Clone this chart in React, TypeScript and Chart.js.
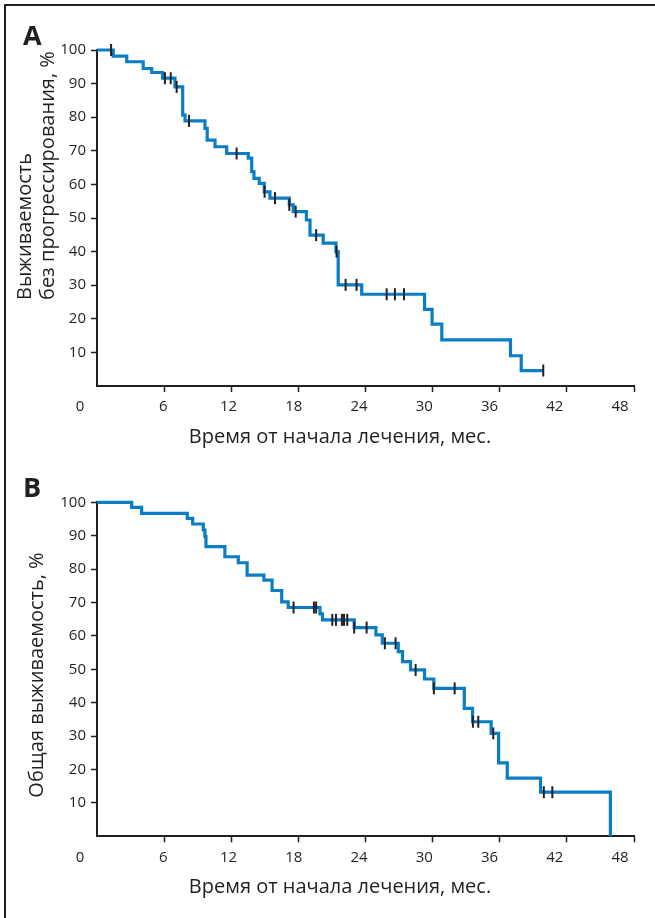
import React, { useEffect, useRef } from 'react';
import { Chart, registerables } from 'chart.js';

Chart.register(...registerables);

// ---------- data ----------
const xTickValues = [0, 6, 12, 18, 24, 30, 36, 42, 48];
const yTickValues = [10, 20, 30, 40, 50, 60, 70, 80, 90, 100];

const xTitle = 'Время от начала лечения, мес.';
const pfsTitleLines = ['Выживаемость', 'без прогрессирования, %'];
const osTitle = 'Общая выживаемость, %';

// Panel A: progression-free survival (time of step, survival after step)
const pfsTimes = [0, 1.45, 2.66, 4.13, 4.89, 5.86, 6.97, 7.66, 7.87, 9.65, 9.85, 10.55, 11.59, 13.52, 13.83, 14.03, 14.5, 14.95, 15.46, 17.19, 17.54, 18.72, 19.04, 20.22, 21.36, 21.56, 23.66, 29.28, 29.95, 30.82, 36.96, 37.92, 39.89];
const pfsSurv = [100, 98.2, 96.5, 94.5, 93.3, 91.6, 89.0, 80.6, 78.9, 76.7, 73.2, 71.2, 69.2, 67.8, 63.8, 61.8, 60.3, 57.8, 55.9, 53.9, 51.9, 49.4, 44.9, 42.5, 40.0, 30.1, 27.3, 22.8, 18.4, 13.7, 9.0, 4.6, 4.6];
const pfsCensored = [1.26, 6.07, 6.59, 7.12, 8.22, 12.48, 14.98, 15.91, 17.19, 17.76, 19.59, 21.41, 22.22, 23.2, 25.89, 26.63, 27.44, 39.89];

// Panel B: overall survival
const osTimes = [0, 3.1, 3.99, 8.07, 8.55, 9.5, 9.65, 9.74, 11.43, 12.63, 13.42, 14.92, 15.65, 16.51, 17.09, 19.93, 20.16, 22.99, 24.93, 25.5, 26.93, 27.31, 28.03, 29.28, 30.11, 32.83, 33.57, 35.23, 35.9, 36.67, 39.65, 45.89];
const osSurv = [100, 98.5, 96.7, 95.2, 93.5, 91.7, 89.7, 86.7, 83.7, 81.9, 78.2, 76.7, 73.6, 70.2, 68.5, 66.6, 64.8, 62.5, 60.3, 57.8, 55.3, 52.3, 49.8, 47.1, 44.3, 38.3, 34.3, 30.8, 22.0, 17.4, 13.2, 0];
const osCensored = [17.57, 19.39, 19.59, 21.03, 21.36, 21.89, 22.08, 22.37, 22.99, 24.1, 25.73, 26.69, 28.48, 30.11, 31.97, 33.6, 34.08, 35.42, 39.94, 40.7];

// ---------- styles ----------
const INK = '#231f20';
const BLUE = '#0a7dc4';
const FONT = '"Open Sans", "Noto Sans", sans-serif';
const LABEL_STRETCH = 0.972; // tick labels sit slightly left of their tick marks in the original

function levelAt(times: number[], surv: number[], t: number): number {
  let v = surv[0];
  for (let i = 0; i < times.length; i++) {
    if (times[i] <= t) v = surv[i];
  }
  return v;
}

type YLine = { text: string; x: number; y: number; align: CanvasTextAlign };

type PanelProps = {
  top: number;
  height: number;
  padTop: number;
  padBottom: number;
  letter: string;
  times: number[];
  surv: number[];
  censored: number[];
  yLines: YLine[];
};

function Panel(props: PanelProps) {
  const ref = useRef<HTMLCanvasElement | null>(null);

  useEffect(() => {
    if (!ref.current) return;
    const { times, surv, censored, letter, yLines } = props;

    const textPlugin = {
      id: 'panelTexts',
      afterDraw(chart: any) {
        const { ctx, chartArea, scales } = chart;
        ctx.save();
        ctx.fillStyle = INK;
        // panel letter
        ctx.font = `bold 27px ${FONT}`;
        ctx.textAlign = 'left';
        ctx.textBaseline = 'middle';
        ctx.fillText(letter, 23, chartArea.top - 13);
        // x title
        ctx.font = `20px ${FONT}`;
        ctx.textAlign = 'center';
        ctx.fillText(xTitle, 340, chartArea.bottom + 51);
        // x tick labels
        ctx.font = `15px ${FONT}`;
        xTickValues.forEach((v) => {
          const px = v === 0
            ? scales.x.getPixelForValue(0) - 17
            : scales.x.getPixelForValue(v * LABEL_STRETCH) + 1;
          ctx.fillText(String(v), px, chartArea.bottom + 21);
        });
        // y titles
        ctx.font = `20px ${FONT}`;
        yLines.forEach((l) => {
          ctx.save();
          ctx.translate(l.x, l.y);
          ctx.rotate(-Math.PI / 2);
          ctx.textAlign = l.align;
          ctx.textBaseline = 'middle';
          ctx.fillText(l.text, 0, 0);
          ctx.restore();
        });
        ctx.restore();
      },
    };

    const chart = new Chart(ref.current, {
      type: 'line',
      data: {
        datasets: [
          {
            label: 'censored',
            data: censored.map((t) => ({ x: t, y: levelAt(times, surv, t) })),
            showLine: false,
            pointStyle: 'line',
            rotation: 90,
            pointRadius: 6,
            pointBorderWidth: 2,
            pointBorderColor: INK,
            pointBackgroundColor: INK,
            clip: false,
          } as any,
          {
            label: 'survival',
            data: times.map((t, i) => ({ x: t, y: surv[i] })),
            stepped: 'before',
            borderColor: BLUE,
            borderWidth: 3.2,
            pointRadius: 0,
            fill: false,
            clip: false,
          } as any,
        ],
      },
      options: {
        animation: false,
        responsive: false,
        maintainAspectRatio: false,
        events: [],
        layout: {
          padding: { left: 0, right: 21, top: props.padTop, bottom: props.padBottom },
        },
        plugins: {
          legend: { display: false },
          tooltip: { enabled: false },
          title: { display: false },
        },
        scales: {
          x: {
            type: 'linear',
            min: 0,
            max: 48,
            afterFit: (s: any) => {
              s.height = 63;
            },
            afterBuildTicks: (s: any) => {
              s.ticks = xTickValues.map((v) => ({ value: v }));
            },
            ticks: {
              color: INK,
              font: { family: FONT, size: 15 },
              padding: 7,
              maxRotation: 0,
              autoSkip: false,
              callback: () => '',
            },
            grid: {
              drawOnChartArea: false,
              drawTicks: true,
              tickLength: 6,
              tickWidth: 1.5,
              tickColor: (c: any) => (c.tick && c.tick.value === 0 ? 'rgba(0,0,0,0)' : INK),
            },
            border: { display: true, color: INK, width: 2 },
          },
          y: {
            type: 'linear',
            min: 0,
            max: 100,
            afterFit: (s: any) => {
              s.width = 97;
            },
            afterBuildTicks: (s: any) => {
              s.ticks = [0, ...yTickValues].map((v) => ({ value: v }));
            },
            ticks: {
              color: INK,
              font: { family: FONT, size: 15 },
              padding: 5,
              autoSkip: false,
              callback: (v: any) => (v === 0 ? '' : String(v)),
            },
            grid: {
              drawOnChartArea: false,
              drawTicks: true,
              tickLength: 6,
              tickWidth: 1.5,
              tickColor: (c: any) => (c.tick && c.tick.value === 0 ? 'rgba(0,0,0,0)' : INK),
            },
            border: { display: true, color: INK, width: 2 },
          },
        },
      },
      plugins: [textPlugin],
    });

    return () => chart.destroy();
  }, []);

  return (
    <canvas
      ref={ref}
      width={655}
      height={props.height}
      style={{ position: 'absolute', left: 0, top: props.top, width: 655, height: props.height }}
    />
  );
}

export default function App() {
  useEffect(() => {
    document.body.style.margin = '0';
  }, []);

  return (
    <div style={{ position: 'relative', width: 655, height: 918, background: '#fff', overflow: 'hidden' }}>
      <div
        style={{
          position: 'absolute',
          left: 4,
          top: 4,
          width: 700,
          height: 1000,
          borderLeft: `2px solid ${INK}`,
          borderTop: `2px solid ${INK}`,
          boxSizing: 'border-box',
        }}
      />
      <Panel
        top={0}
        height={460}
        padTop={50}
        padBottom={11}
        letter="A"
        times={pfsTimes}
        surv={pfsSurv}
        censored={pfsCensored}
        yLines={[
          { text: pfsTitleLines[0], x: 25, y: 300, align: 'left' },
          { text: pfsTitleLines[1], x: 48, y: 300, align: 'left' },
        ]}
      />
      <Panel
        top={460}
        height={458}
        padTop={42.3}
        padBottom={18.7}
        letter="B"
        times={osTimes}
        surv={osSurv}
        censored={osCensored}
        yLines={[{ text: osTitle, x: 37, y: 215, align: 'center' }]}
      />
    </div>
  );
}
